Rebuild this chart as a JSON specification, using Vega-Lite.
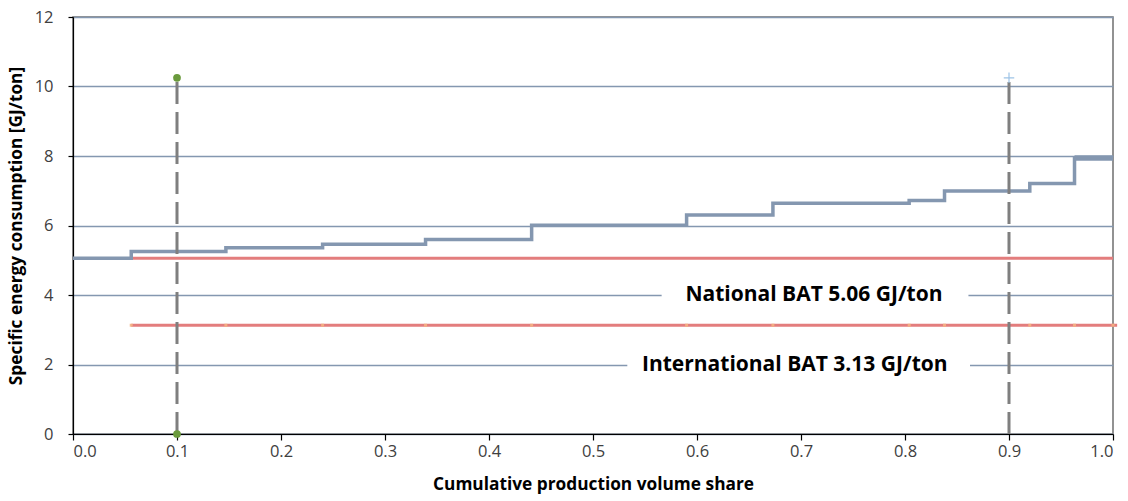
{
  "$schema": "https://vega.github.io/schema/vega-lite/v6.json",
  "width": 1040,
  "height": 417,
  "autosize": {"type": "none"},
  "padding": {"left": 73, "top": 17, "right": 15, "bottom": 67},
  "config": {
    "font": "Open Sans",
    "view": {"stroke": "#6f6f6f", "strokeWidth": 1.5},
    "axis": {
      "labelFont": "Open Sans",
      "titleFont": "Open Sans",
      "labelFontSize": 16.5,
      "labelColor": "#404040",
      "titleFontSize": 17.3,
      "titleFontWeight": "bold",
      "titleColor": "#000000",
      "domainColor": "#000000",
      "tickColor": "#000000",
      "domainWidth": 1.2,
      "tickWidth": 1.2
    }
  },
  "datasets": {
    "curve": [
      {"share": 0.0, "energy": 5.06},
      {"share": 0.056, "energy": 5.25},
      {"share": 0.147, "energy": 5.36},
      {"share": 0.24, "energy": 5.46},
      {"share": 0.339, "energy": 5.6},
      {"share": 0.441, "energy": 6.01},
      {"share": 0.59, "energy": 6.3},
      {"share": 0.673, "energy": 6.64},
      {"share": 0.804, "energy": 6.72},
      {"share": 0.838, "energy": 6.99},
      {"share": 0.92, "energy": 7.21},
      {"share": 0.963, "energy": 7.94},
      {"share": 1.0, "energy": 7.94}
    ],
    "bat": [
      {"name": "National BAT", "start": 0.056, "end": 1.0, "energy": 5.06},
      {"name": "International BAT", "start": 0.056, "end": 1.004, "energy": 3.13}
    ],
    "intlPoints": [
      {"share": 0.056, "energy": 3.13},
      {"share": 0.147, "energy": 3.13},
      {"share": 0.24, "energy": 3.13},
      {"share": 0.339, "energy": 3.13},
      {"share": 0.441, "energy": 3.13},
      {"share": 0.59, "energy": 3.13},
      {"share": 0.673, "energy": 3.13},
      {"share": 0.804, "energy": 3.13},
      {"share": 0.838, "energy": 3.13},
      {"share": 0.92, "energy": 3.13},
      {"share": 0.963, "energy": 3.13},
      {"share": 1.0, "energy": 3.13}
    ],
    "markers": [
      {"share": 0.1, "low": 0, "high": 10.25},
      {"share": 0.9, "low": 0, "high": 10.25}
    ],
    "labels": [
      {"text": "National BAT 5.06 GJ/ton", "cx": 0.7125, "x0": 0.566, "x1": 0.861, "cy": 4, "y0": 3.62, "y1": 4.38},
      {"text": "International BAT 3.13 GJ/ton", "cx": 0.694, "x0": 0.533, "x1": 0.8625, "cy": 2, "y0": 1.62, "y1": 2.38}
    ]
  },
  "layer": [
    {
      "data": {"name": "labels"},
      "mark": {"type": "rect", "fill": "#ffffff"},
      "encoding": {
        "x": {
          "field": "x0", "type": "quantitative",
          "scale": {"domain": [0, 1], "nice": false},
          "axis": {
            "title": "Cumulative production  volume share",
            "values": [0, 0.1, 0.2, 0.3, 0.4, 0.5, 0.6, 0.7, 0.8, 0.9, 1.0],
            "format": ".1f",
            "grid": false,
            "tickSize": 6,
            "labelPadding": 3,
            "titlePadding": 16
          }
        },
        "x2": {"field": "x1"},
        "y": {
          "field": "y0", "type": "quantitative",
          "scale": {"domain": [0, 12], "nice": false},
          "axis": {
            "title": "Specific energy consumption  [GJ/ton]",
            "values": [0, 2, 4, 6, 8, 10, 12],
            "grid": true,
            "gridColor": "#8497b0",
            "gridWidth": 1.5,
            "tickSize": 5,
            "labelPadding": 15,
            "titlePadding": 9
          }
        },
        "y2": {"field": "y1"}
      }
    },
    {
      "data": {"name": "labels"},
      "mark": {"type": "text", "fontSize": 21, "fontWeight": "bold", "color": "#000000", "align": "center", "baseline": "middle"},
      "encoding": {
        "x": {"field": "cx", "type": "quantitative"},
        "y": {"field": "cy", "type": "quantitative"},
        "text": {"field": "text"}
      }
    },
    {
      "data": {"name": "bat"},
      "mark": {"type": "rule", "color": "#e37d7d", "strokeWidth": 3, "clip": false},
      "encoding": {
        "x": {"field": "start", "type": "quantitative"},
        "x2": {"field": "end"},
        "y": {"field": "energy", "type": "quantitative"}
      }
    },
    {
      "data": {"name": "intlPoints"},
      "mark": {"type": "point", "shape": "square", "filled": true, "size": 9, "color": "#f4b183", "opacity": 0.9},
      "encoding": {
        "x": {"field": "share", "type": "quantitative"},
        "y": {"field": "energy", "type": "quantitative"}
      }
    },
    {
      "data": {"name": "curve"},
      "mark": {"type": "line", "interpolate": "step-after", "color": "#8497b0", "strokeWidth": 3.5},
      "encoding": {
        "x": {"field": "share", "type": "quantitative"},
        "y": {"field": "energy", "type": "quantitative"}
      }
    },
    {
      "data": {"name": "curve"},
      "transform": [{"filter": "datum.share >= 0.963"}],
      "mark": {"type": "line", "interpolate": "step-after", "color": "#8497b0", "strokeWidth": 5.5},
      "encoding": {
        "x": {"field": "share", "type": "quantitative"},
        "y": {"field": "energy", "type": "quantitative"}
      }
    },
    {
      "data": {"name": "markers"},
      "mark": {"type": "rule", "color": "#7f7f7f", "strokeWidth": 3, "strokeDash": [22, 8]},
      "encoding": {
        "x": {"field": "share", "type": "quantitative"},
        "y": {"field": "low", "type": "quantitative"},
        "y2": {"field": "high"}
      }
    },
    {
      "data": {"name": "markers"},
      "transform": [{"filter": "datum.share < 0.5"}, {"fold": ["low", "high"], "as": ["end", "energy"]}],
      "mark": {"type": "point", "shape": "circle", "filled": true, "size": 60, "color": "#6a9a3c", "opacity": 1, "clip": false},
      "encoding": {
        "x": {"field": "share", "type": "quantitative"},
        "y": {"field": "energy", "type": "quantitative"}
      }
    },
    {
      "data": {"name": "markers"},
      "transform": [{"filter": "datum.share > 0.5"}],
      "mark": {"type": "point", "shape": "M-1,0H1M0,-1V1", "filled": false, "size": 110, "color": "#9dc3e6", "strokeWidth": 1.2, "opacity": 1},
      "encoding": {
        "x": {"field": "share", "type": "quantitative"},
        "y": {"field": "high", "type": "quantitative"}
      }
    }
  ]
}
